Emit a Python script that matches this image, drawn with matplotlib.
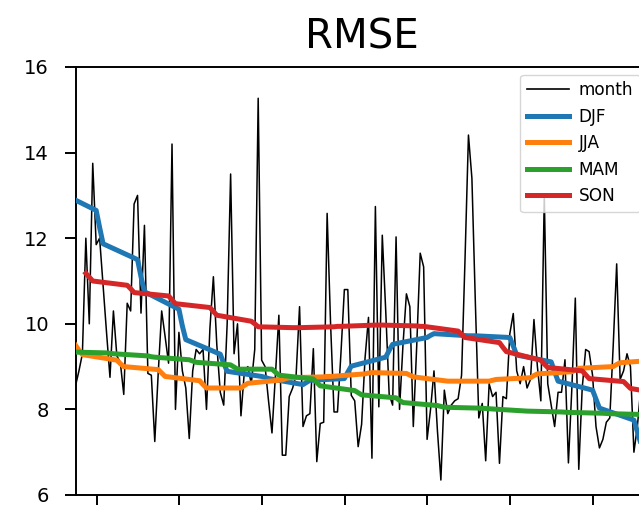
import numpy as np
import matplotlib
matplotlib.use("Agg")
import matplotlib.pyplot as plt

# ---------------- data ----------------
month_vals = [
    8.55, 8.9, 9.3, 12.0, 10.0, 13.75, 11.85, 12.0, 10.9, 9.8,
    8.75, 10.3, 9.25, 9.1, 8.35, 10.48, 10.3, 12.8, 13.0, 10.25,
    12.3, 8.84, 8.8, 7.25, 8.85, 10.3, 9.7, 9.08, 14.2, 8.0,
    9.8, 8.9, 8.5, 7.32, 8.9, 9.4, 9.3, 9.4, 8.0, 9.9,
    11.1, 9.5, 8.4, 8.1, 10.0, 13.5, 9.3, 10.0, 7.85, 8.9,
    9.0, 8.6, 9.4, 15.27, 9.15, 9.0, 8.2, 7.45, 8.8, 10.2,
    6.93, 6.93, 8.3, 8.5, 8.8, 10.4, 7.6, 7.85, 7.9, 9.42,
    6.78, 7.67, 7.7, 12.58, 10.0, 7.94, 7.94, 9.3, 10.8, 10.8,
    8.33, 8.2, 7.13, 7.65, 9.2, 10.15, 6.86, 12.74, 8.06, 12.07,
    10.3, 8.35, 8.1, 12.03, 8.0, 9.5, 10.7, 10.4, 7.6, 9.5,
    11.65, 11.33, 7.3, 8.0, 8.9, 7.5, 6.35, 8.45, 7.9, 8.1,
    8.2, 8.25, 8.8, 11.5, 14.41, 13.4, 10.5, 7.8, 8.14, 6.8,
    8.6, 8.3, 8.4, 6.74, 8.3, 8.25, 9.77, 10.24, 8.9, 8.6,
    9.0, 8.5, 8.7, 10.1, 9.0, 8.2, 13.0, 8.6, 8.1, 7.6,
    8.4, 8.4, 9.16, 6.75, 8.5, 10.6, 6.6, 8.5, 9.4, 9.35,
    8.8, 7.6, 7.1, 7.3, 7.7, 7.8, 9.5, 11.4, 8.7, 8.9,
    9.3, 9.0, 7.0, 7.6, 8.5, 9.0, 8.6,
]
month_idx = np.arange(len(month_vals))

# seasonal series: values at the three months of each season, year by year
djf_vals = [13.05,
            12.65, 12.25, 11.87, 11.5, 11.1, 10.75, 10.34, 9.95, 9.63,
            9.29, 9.08, 8.89, 8.77, 8.75, 8.72, 8.58, 8.63, 8.68,
            8.72, 8.87, 9.01, 9.22, 9.38, 9.52, 9.68, 9.73, 9.77,
            9.72, 9.72, 9.72, 9.68, 9.48, 9.27, 9.11, 8.88, 8.66,
            8.45, 8.24, 8.03, 7.75, 7.48, 7.2]
djf_months = [-4] + [6 + 12 * k + j for k in range(14) for j in range(3)]

mam_vals = [9.34,
            9.32, 9.31, 9.3, 9.25, 9.23, 9.22, 9.16, 9.13, 9.1,
            9.04, 8.99, 8.94, 8.94, 8.87, 8.8, 8.71, 8.63, 8.55,
            8.44, 8.39, 8.34, 8.27, 8.21, 8.16, 8.09, 8.07, 8.05,
            8.03, 8.025, 8.02, 7.97, 7.965, 7.96, 7.94, 7.935, 7.93,
            7.91, 7.905, 7.9, 7.88, 7.875, 7.87]
mam_months = [-1] + [9 + 12 * k + j for k in range(14) for j in range(3)]

jja_vals = [9.5, 9.38, 9.28, 9.15, 9.07, 9.0, 8.93, 8.85, 8.77,
            8.67, 8.58, 8.5, 8.5, 8.56, 8.61, 8.69, 8.72, 8.74,
            8.76, 8.77, 8.77, 8.83, 8.85, 8.86, 8.84, 8.8, 8.76,
            8.66, 8.66, 8.66, 8.66, 8.68, 8.70, 8.74, 8.79, 8.83,
            8.88, 8.92, 8.96, 9.0, 9.05, 9.09,
            9.15]
jja_months = [12 * k + j for k in range(14) for j in range(3)] + [168]

son_vals = [11.18, 11.09, 11.0, 10.9, 10.82, 10.73, 10.65, 10.56, 10.47,
            10.38, 10.29, 10.2, 10.06, 10.0, 9.93, 9.91, 9.91, 9.91,
            9.93, 9.94, 9.94, 9.97, 9.97, 9.97, 9.95, 9.94, 9.94,
            9.83, 9.75, 9.68, 9.56, 9.45, 9.35, 9.15, 9.06, 8.98,
            8.9, 8.81, 8.72, 8.65, 8.57, 8.49,
            8.35]
son_months = [3 + 12 * k + j for k in range(14) for j in range(3)] + [171]

year_ticks = [6.1 + 24 * k for k in range(7)]

# ---------------- figure ----------------
W, H = 639, 505
fig = plt.figure(figsize=(W / 100, H / 100), dpi=100)
left, right, top, bottom = 75.5, 647.7, 67, 495
ax = fig.add_axes([left / W, 1 - bottom / H, (right - left) / W, (bottom - top) / H])

ax.plot(month_idx, month_vals, color="black", lw=1.1, label="month", zorder=2)
ax.plot(djf_months, djf_vals, color="tab:blue", lw=3.6, label="DJF", zorder=3)
ax.plot(jja_months, jja_vals, color="tab:orange", lw=3.6, label="JJA", zorder=3)
ax.plot(mam_months, mam_vals, color="tab:green", lw=3.6, label="MAM", zorder=3)
ax.plot(son_months, son_vals, color="tab:red", lw=3.6, label="SON", zorder=3)

ax.set_xlim(0, len(month_vals) - 1)
ax.set_ylim(6, 16)
ax.set_yticks([6, 8, 10, 12, 14, 16])
ax.set_xticks(year_ticks)
ax.set_xticklabels([])
ax.tick_params(axis="both", length=8, width=1.4, labelsize=14, pad=11)
for s in ax.spines.values():
    s.set_linewidth(1.4)

ax.set_title("RMSE", fontsize=29, pad=13.5)

leg = ax.legend(loc="upper right", fontsize=12.2, handlelength=2.45,
                handletextpad=0.6, borderaxespad=0.45)
leg.get_lines()[0].set_linewidth(1.2)

fig.savefig("out.png", dpi=100)
